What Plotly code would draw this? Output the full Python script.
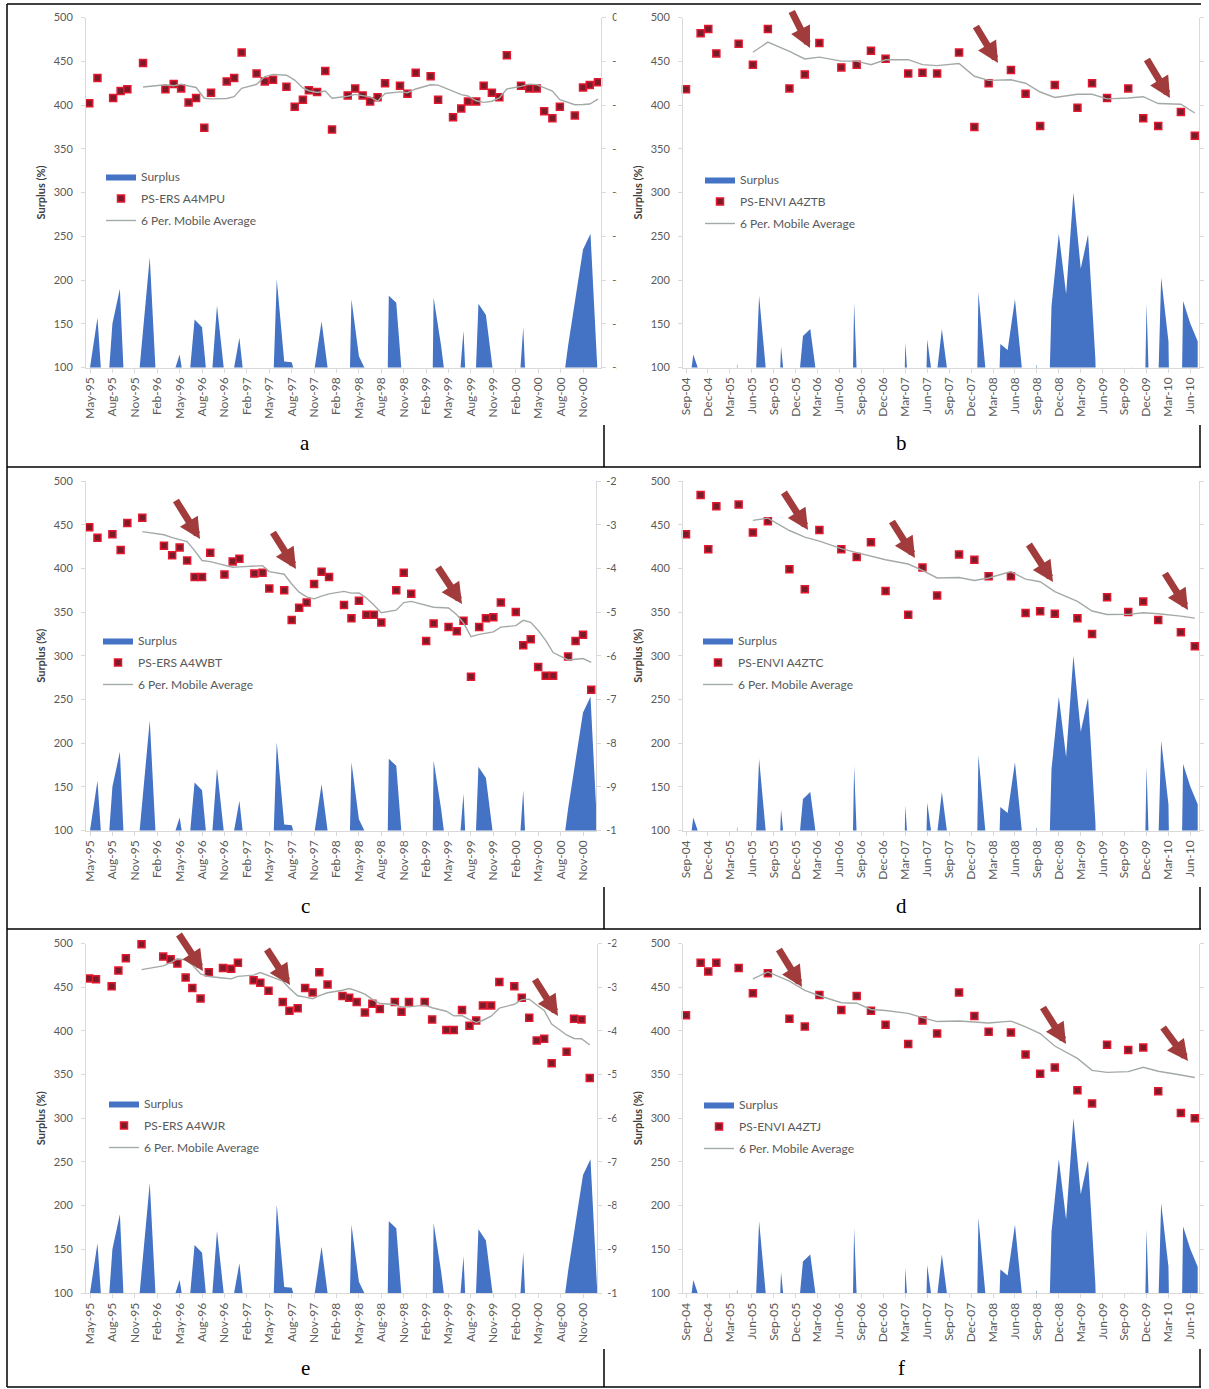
import pandas as pd
import plotly.graph_objects as go

W, H = 1209, 1389

# ---------------- data ----------------
# ERS period (month index 0 = May-95)
ers_ticks = ["May-95", "Aug-95", "Nov-95", "Feb-96", "May-96", "Aug-96", "Nov-96", "Feb-97",
             "May-97", "Aug-97", "Nov-97", "Feb-98", "May-98", "Aug-98", "Nov-98", "Feb-99",
             "May-99", "Aug-99", "Nov-99", "Feb-00", "May-00", "Aug-00", "Nov-00"]
# ENVISAT period (month index 0 = Sep-04)
envi_ticks = ["Sep-04", "Dec-04", "Mar-05", "Jun-05", "Sep-05", "Dec-05", "Mar-06", "Jun-06",
              "Sep-06", "Dec-06", "Mar-07", "Jun-07", "Sep-07", "Dec-07", "Mar-08", "Jun-08",
              "Sep-08", "Dec-08", "Mar-09", "Jun-09", "Sep-09", "Dec-09", "Mar-10", "Jun-10"]

# monthly precipitation surplus (%), values below 100 fall under the axis floor
ers_surplus = [100, 157, 30, 150, 190, 0, 40, 133, 226, 60,
               -100, 88, 115, 60, 155, 146, 55, 171, 92, 86,
               134, 55, -50, -100, -51, 201, 107, 106, 76, -100,
               95, 153, 87, -100, -212, 178, 113, 95, -100, -400,
               182, 174, 64, -100, -200, -500, 180, 125, 57, 37,
               142, -50, 173, 160, 92, -100, -100, 20, 146, -50,
               -100, -100, -50, 60, 125, 180, 235, 253, 85]
envi_surplus = [50, 115, 90, -100, -100, -100, 0, 105, 0, -23,
                182, 91, -100, 124, 40, 46, 136, 144, 81, -100,
                -100, -100, -300, 174, -50, -100, -100, -100, -100, -300,
                129, 0, -200, 132, 70, 144, 80, -100, -100, -400,
                186, 95, -143, 127, 120, 178, 95, 60, 104, -140,
                170, 253, 184, 300, 213, 252, 110, -200, -100, -100,
                -100, 103, -300, 173, -100, 203, 130, -400, 176, 150,
                130]

# persistent scatterer series (acquisition month index, value)
a_month = [-0.1, 1.0, 3.1, 4.1, 5.0, 7.1, 10.1, 11.2, 12.2, 13.2, 14.2, 15.3, 16.2, 18.3, 19.3,
           20.3, 22.3, 23.4, 24.5, 26.3, 27.4, 28.5, 29.3, 30.4, 31.5, 32.4, 34.5, 35.5, 36.5, 37.5,
           38.5, 39.5, 41.5, 42.5, 43.6, 45.6, 46.6, 48.6, 49.7, 50.6, 51.7, 52.7, 53.8, 54.8, 55.8,
           57.7, 58.8, 59.8, 60.8, 61.9, 62.9, 64.9, 66.0, 66.9, 68.0]
a_ps = [402, 431, 408, 416, 418, 448, 418, 424, 419, 403, 408, 374, 414, 427, 431,
        460, 436, 427, 429, 421, 398, 406, 417, 415, 439, 372, 411, 419, 411, 404,
        409, 425, 422, 413, 437, 433, 406, 386, 396, 404, 404, 422, 414, 409, 457,
        422, 419, 419, 393, 385, 398, 388, 420, 423, 426]

c_month = [-0.1, 1.0, 3.0, 4.1, 5.0, 7.0, 9.9, 11.0, 12.0, 13.0, 14.0, 15.0, 16.1, 18.0, 19.1,
           20.0, 22.0, 23.1, 24.0, 26.0, 27.0, 28.0, 29.0, 30.0, 31.0, 32.0, 34.0, 35.0, 36.0, 37.0,
           38.0, 39.0, 41.0, 42.0, 43.0, 45.0, 46.0, 48.0, 49.1, 50.0, 51.0, 52.1, 53.0, 54.0, 55.0,
           57.0, 58.0, 59.0, 60.0, 61.0, 62.0, 64.0, 65.0, 66.0, 67.1]
c_ps = [447, 435, 439, 421, 452, 458, 426, 415, 424, 409, 390, 390, 418, 393, 408,
        411, 394, 395, 377, 375, 341, 355, 361, 382, 396, 390, 358, 343, 363, 347,
        347, 338, 375, 395, 371, 317, 337, 333, 328, 340, 276, 333, 343, 344, 361,
        350, 312, 319, 287, 277, 277, 299, 317, 324, 261]

e_month = [-0.1, 0.8, 2.9, 3.8, 4.8, 6.9, 9.8, 10.8, 11.7, 12.8, 13.7, 14.8, 15.9, 17.8, 18.9,
           19.8, 21.9, 22.8, 23.9, 25.8, 26.7, 27.8, 28.8, 29.8, 30.7, 31.8, 33.8, 34.7, 35.7, 36.8,
           37.8, 38.8, 40.8, 41.7, 42.7, 44.8, 45.8, 47.7, 48.7, 49.8, 50.8, 51.7, 52.6, 53.7, 54.8,
           56.8, 57.8, 58.8, 59.8, 60.8, 61.8, 63.8, 64.8, 65.8, 66.9]
e_ps = [460, 459, 451, 469, 483, 499, 485, 482, 477, 461, 449, 437, 467, 472, 471,
        478, 458, 455, 446, 433, 423, 426, 449, 444, 467, 453, 440, 438, 433, 421,
        431, 425, 433, 422, 433, 433, 413, 401, 401, 424, 406, 412, 429, 429, 456,
        451, 438, 415, 389, 391, 363, 376, 414, 413, 346]

envi_month = [0.0, 2.0, 3.05, 4.15, 7.2, 9.15, 11.2, 14.15, 16.25, 18.25, 21.25, 23.35, 25.3, 27.3,
              30.4, 32.35, 34.35, 37.35, 39.45, 41.4, 44.45, 46.45, 48.45, 50.45, 53.55, 55.55,
              57.6, 60.5, 62.55, 64.6, 67.7, 69.6]
b_ps = [418, 482, 487, 459, 470, 446, 487, 419, 435, 471, 443, 446, 462, 453, 436, 437,
        436, 460, 375, 425, 440, 413, 376, 423, 397, 425, 408, 419, 385, 376, 392, 365]
d_ps = [439, 484, 422, 471, 473, 441, 454, 399, 376, 444, 422, 413, 430, 374, 347, 401,
        369, 416, 410, 391, 391, 349, 351, 348, 343, 325, 367, 350, 362, 341, 327, 311]
f_ps = [418, 478, 468, 478, 472, 443, 466, 414, 405, 441, 424, 440, 423, 407, 385, 412,
        397, 444, 417, 399, 398, 373, 351, 358, 332, 317, 384, 378, 381, 331, 306, 300]

# secondary (right) axis labels
right_a = ["0", "-1", "-2", "-3", "-4", "-5", "-6", "-7", "-8"]
right_std = ["-2", "-3", "-4", "-5", "-6", "-7", "-8", "-9", "-10"]

MA_PERIOD = 6

# ---------------- layout helpers ----------------
def fx(p):
    return p / W


def fy(p):
    return 1 - p / H


ROWS = [(17.5, 367.5), (481, 830.5), (943.5, 1293)]
MONTH_ERS, MONTH_ENVI = 7.47, 7.31  # px per month


def ers_geo(right_px):
    return dict(dom=(86, right_px), rng=((86 - 90) / MONTH_ERS, (right_px - 90) / MONTH_ERS))


ENVI_GEO = dict(dom=(683, 1199), rng=((683 - 686) / MONTH_ENVI, (1199 - 686) / MONTH_ENVI))

BLUE = "#4472C4"
GREY_TXT = "#595959"
AXIS_GREY = "#d9d9d9"
ARROW = "#A23B3B"

panels = [
    dict(key="a", row=0, geo=ers_geo(601), ticks=ers_ticks, surplus=ers_surplus, month=a_month, ps=a_ps,
         name="PS-ERS A4MPU", right=right_a, rlabels=True, rstand=4, leg=(101, 162),
         arrows=[]),
    dict(key="b", row=0, geo=ENVI_GEO, ticks=envi_ticks, surplus=envi_surplus, month=envi_month, ps=b_ps,
         name="PS-ENVI A4ZTB", right=right_std, rlabels=False, rstand=0, leg=(700, 165),
         arrows=[((791, 10), (810, 48)), ((975, 25), (998, 63)), ((1146, 58), (1170, 98))]),
    dict(key="c", row=1, geo=ers_geo(596), ticks=ers_ticks, surplus=ers_surplus, month=c_month, ps=c_ps,
         name="PS-ERS A4WBT", right=right_std, rlabels=True, rstand=3, leg=(98, 626),
         arrows=[((175, 499), (200, 539)), ((272, 531), (296, 569)), ((437, 566), (462, 604))]),
    dict(key="d", row=1, geo=ENVI_GEO, ticks=envi_ticks, surplus=envi_surplus, month=envi_month, ps=d_ps,
         name="PS-ENVI A4ZTC", right=right_std, rlabels=False, rstand=0, leg=(698, 626),
         arrows=[((783, 491), (808, 530)), ((891, 520), (915, 558)), ((1028, 543), (1053, 582)),
                 ((1164, 572), (1188, 610))]),
    dict(key="e", row=2, geo=ers_geo(597), ticks=ers_ticks, surplus=ers_surplus, month=e_month, ps=e_ps,
         name="PS-ERS A4WJR", right=right_std, rlabels=True, rstand=3, leg=(104, 1089),
         arrows=[((178, 933), (203, 971)), ((266, 948), (290, 985)), ((534, 978), (558, 1016))]),
    dict(key="f", row=2, geo=ENVI_GEO, ticks=envi_ticks, surplus=envi_surplus, month=envi_month, ps=f_ps,
         name="PS-ENVI A4ZTJ", right=right_std, rlabels=False, rstand=0, leg=(699, 1090),
         arrows=[((778, 948), (802, 987)), ((1042, 1006), (1066, 1044)), ((1162, 1026), (1188, 1061))]),
]

fig = go.Figure()
layout = dict(
    width=W, height=H, margin=dict(l=0, r=0, t=0, b=0),
    paper_bgcolor="white", plot_bgcolor="white",
    font=dict(family="Lato, 'Liberation Sans', sans-serif", size=11, color=GREY_TXT),
    showlegend=True, annotations=[], shapes=[],
)

for i, p in enumerate(panels, start=1):
    xid = "x" if i == 1 else f"x{i}"
    nl, nr = 2 * i - 1, 2 * i
    ylid = "y" if nl == 1 else f"y{nl}"
    yrid = f"y{nr}"
    leg_id = "legend" if i == 1 else f"legend{i}"
    grp = p["key"]

    months_grid = list(range(len(p["surplus"])))
    ma = pd.Series(p["ps"], dtype=float).rolling(MA_PERIOD).mean()

    fig.add_trace(go.Scatter(
        x=months_grid, y=p["surplus"], mode="lines", line=dict(width=0, color=BLUE),
        fill="tozeroy", fillcolor=BLUE, name="Surplus", xaxis=xid, yaxis=ylid,
        legend=leg_id, legendgroup=grp + "1", hoverinfo="skip"))
    fig.add_trace(go.Scatter(
        x=p["month"], y=p["ps"], mode="markers", name=p["name"], xaxis=xid, yaxis=ylid,
        marker=dict(symbol="square", size=7, color="#7B1A28", line=dict(color="#E3182F", width=1.5)),
        cliponaxis=False, legend=leg_id, legendgroup=grp + "2"))
    fig.add_trace(go.Scatter(
        x=p["month"], y=ma, mode="lines", name="6 Per. Mobile Average", xaxis=xid, yaxis=ylid,
        line=dict(color="#A3AAA6", width=1.4), legend=leg_id, legendgroup=grp + "3"))
    # secondary axis carrier
    fig.add_trace(go.Scatter(x=[None], y=[None], xaxis=xid, yaxis=yrid, showlegend=False,
                             hoverinfo="skip"))

    g = p["geo"]
    top, bot = ROWS[p["row"]]
    xname = "xaxis" if i == 1 else f"xaxis{i}"
    ylname = "yaxis" if nl == 1 else f"yaxis{nl}"
    yrname = f"yaxis{nr}"

    layout[xname] = dict(
        domain=[fx(g["dom"][0]), fx(g["dom"][1])], range=list(g["rng"]), anchor=ylid,
        tickmode="array", tickvals=[3 * k for k in range(len(p["ticks"]))], ticktext=p["ticks"],
        tickangle=-90, ticks="outside", ticklen=4, tickcolor=AXIS_GREY,
        showline=True, linecolor=AXIS_GREY, linewidth=1, showgrid=False, zeroline=False,
        tickfont=dict(size=12, color=GREY_TXT), automargin=False, fixedrange=True)
    layout[ylname] = dict(
        domain=[fy(bot), fy(top)], range=[100, 500], anchor=xid, tick0=100, dtick=50,
        ticks="outside", ticklen=4, tickcolor=AXIS_GREY, showline=True, linecolor=AXIS_GREY,
        showgrid=False, zeroline=False, tickfont=dict(size=11, color=GREY_TXT),
        ticklabelstandoff=6,
        title=dict(text="Surplus (%)", font=dict(size=11, color="#404040", weight="bold"), standoff=5),
        automargin=False, fixedrange=True)
    layout[yrname] = dict(
        overlaying=ylid, side="right", anchor=xid, range=[-8, 0] if p["key"] == "a" else [-10, -2],
        tickmode="array",
        tickvals=[-k for k in range(9)] if p["key"] == "a" else [-k for k in range(2, 11)],
        ticktext=p["right"], ticks="outside", ticklen=4, tickcolor=AXIS_GREY,
        showticklabels=p["rlabels"], ticklabelstandoff=p["rstand"],
        showline=True, linecolor=AXIS_GREY, showgrid=False, zeroline=False,
        tickfont=dict(size=11, color=GREY_TXT), automargin=False, fixedrange=True)

    lx, ly = p["leg"]
    layout[leg_id] = dict(
        x=fx(lx), y=fy(ly), xanchor="left", yanchor="top", bgcolor="rgba(0,0,0,0)",
        font=dict(size=12, color=GREY_TXT), traceorder="grouped", tracegroupgap=3)

    for (tx, ty), (hx, hy) in p["arrows"]:
        layout["annotations"].append(dict(
            x=fx(hx), y=fy(hy), xref="paper", yref="paper", ax=tx - hx, ay=ty - hy,
            axref="pixel", ayref="pixel", text="", showarrow=True, arrowhead=2,
            arrowsize=0.6, arrowwidth=7, arrowcolor=ARROW, standoff=0, startstandoff=0))

# white strips trimming the right-axis labels of the left column
for y0, y1 in [(6, 395), (470, 860), (932, 1320)]:
    layout["shapes"].append(dict(type="rect", xref="paper", yref="paper", x0=fx(616.5), x1=fx(629),
                                 y0=fy(y1), y1=fy(y0), fillcolor="white", line=dict(width=0),
                                 layer="above"))


# table border lines
def hline(y, x0=7, x1=1201):
    return dict(type="line", xref="paper", yref="paper", x0=fx(x0), x1=fx(x1), y0=fy(y), y1=fy(y),
                line=dict(color="black", width=1.5), layer="above")


def vline(x, y0, y1):
    return dict(type="line", xref="paper", yref="paper", x0=fx(x), x1=fx(x), y0=fy(y0), y1=fy(y1),
                line=dict(color="black", width=1.5), layer="above")


for y in (4, 467, 929, 1387):
    layout["shapes"].append(hline(y))
layout["shapes"].append(vline(7, 4, 1387))
for y0, y1 in [(425, 467), (887, 929), (1349, 1387)]:
    layout["shapes"].append(vline(604, y0, y1))
    layout["shapes"].append(vline(1200, y0, y1))

# captions
for letter, (cx, cy) in zip("abcdef", [(305, 443), (901, 443), (305, 906), (901, 906),
                                        (305, 1368), (901, 1368)]):
    layout["annotations"].append(dict(
        x=fx(cx), y=fy(cy), xref="paper", yref="paper", text=letter, showarrow=False,
        xanchor="center", yanchor="middle",
        font=dict(family="'Liberation Serif', 'Times New Roman', serif", size=21, color="black")))

fig.update_layout(**layout)
fig.write_html("out.html")
